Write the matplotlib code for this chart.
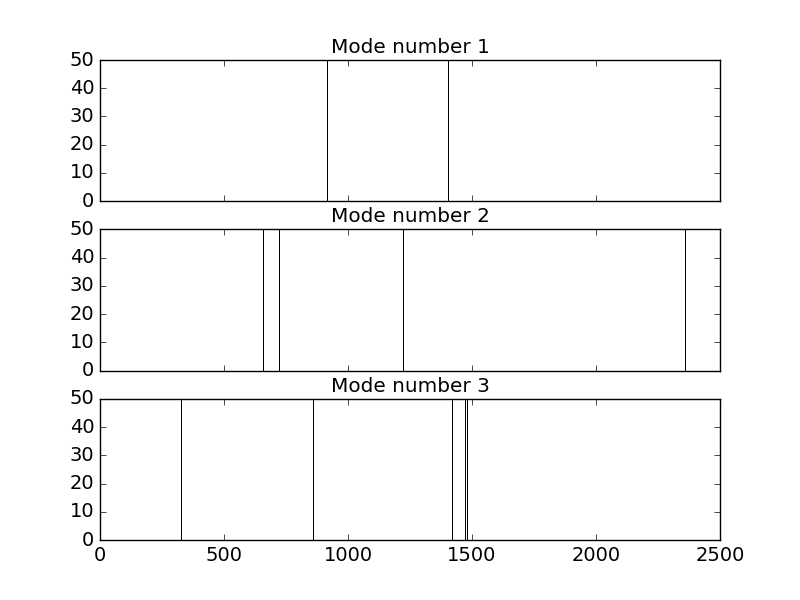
import matplotlib
matplotlib.use('Agg')
import matplotlib.pyplot as plt

plt.style.use('classic')

# positions of the spikes for each mode
mode1 = [916, 1404]
mode2 = [658, 723, 1223, 2360]
mode3 = [325, 860, 1418, 1472, 1481]
modes = [mode1, mode2, mode3]

plt.rcParams['xtick.labelsize'] = 14
plt.rcParams['ytick.labelsize'] = 14

fig, axes = plt.subplots(3, 1, sharex=True, figsize=(8, 6), dpi=100)

for i, ax in enumerate(axes):
    ax.vlines(modes[i], 0, 50, colors='k', linewidth=0.72)
    ax.set_ylim(0, 50)
    ax.set_yticks([0, 10, 20, 30, 40, 50])
    ax.set_xlim(0, 2500)
    ax.set_title('Mode number %d' % (i + 1), fontsize=14.4)

axes[2].set_xticks([0, 500, 1000, 1500, 2000, 2500])

fig.savefig('out.png', dpi=100)
